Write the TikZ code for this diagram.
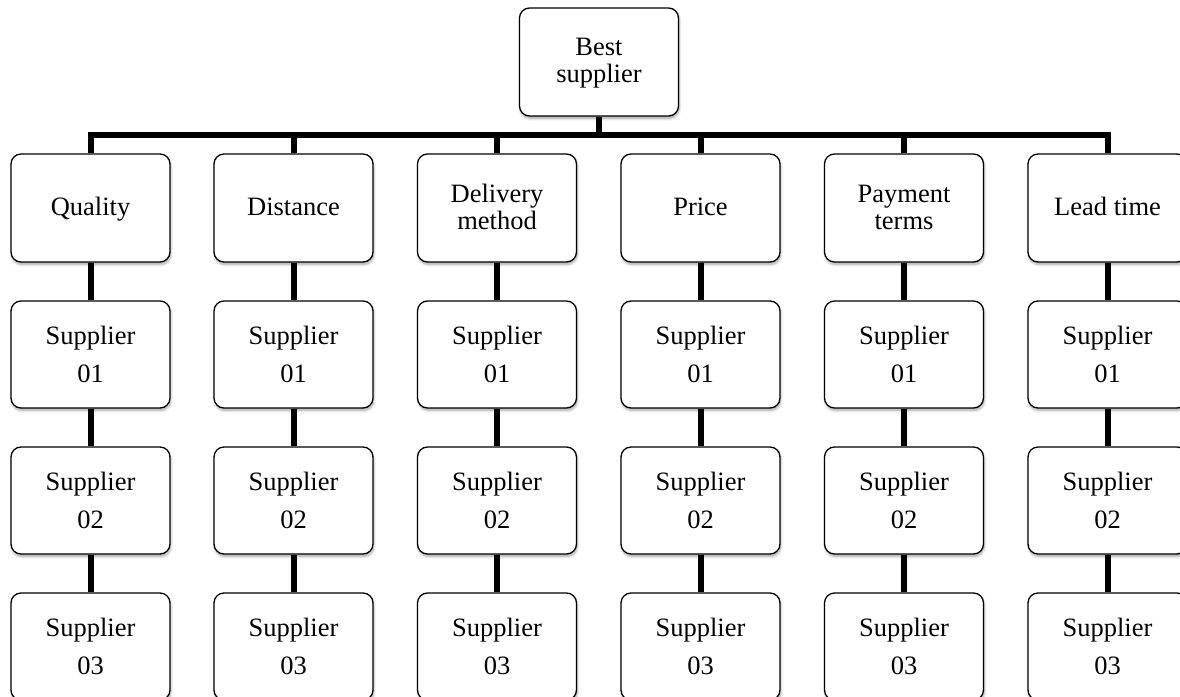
\documentclass[tikz,border=0pt]{standalone}
\usepackage{fontspec}
\setmainfont{Liberation Serif}
\usetikzlibrary{shadows.blur}
\newcommand\boxstrut{\rule[-4bp]{0pt}{24bp}}
\tikzset{
  box/.style={draw=black, line width=1.3bp, rounded corners=10bp, fill=white,
    minimum width=159bp, minimum height=107bp, inner sep=0pt, align=center,
    blur shadow={shadow blur steps=6, shadow xshift=0.8bp, shadow yshift=-2.5bp, shadow opacity=35, shadow blur radius=2.5bp}},
  catbox/.style={box, font=\fontsize{26.5bp}{27bp}\selectfont},
  supbox/.style={box, font=\fontsize{26.5bp}{37.5bp}\selectfont},
  conn/.style={line width=6bp, line join=miter, line cap=butt},
}
\begin{document}
\begin{tikzpicture}[x=1bp, y=-1bp]
\useasboundingbox (0,0) rectangle (1180,697);
\clip (0,0) rectangle (1180,697);
\node[catbox, minimum height=108bp] (top) at (599,62) {\boxstrut Best\\supplier\boxstrut};
\coordinate (bar) at (0,135);
\foreach \i/\x/\t in {1/90.5/Quality, 2/293.5/Distance, 3/497/{Delivery\\method}, 4/700.5/Price, 5/904/{Payment\\terms}, 6/1107.5/Lead time}{
  \node[catbox, minimum height=108bp] (c\i) at (\x,208) {\boxstrut\t\boxstrut};
  \node[supbox] (sa\i) at (\x,354.5) {Supplier\\01};
  \node[supbox] (sb\i) at (\x,500.5) {Supplier\\02};
  \node[supbox] (sc\i) at (\x,646.5) {Supplier\\03};
  \draw[conn] (c\i.south) -- (sa\i.north);
  \draw[conn] (sa\i.south) -- (sb\i.north);
  \draw[conn] (sb\i.south) -- (sc\i.north);
}
\draw[conn] (top.south) -- (top.south |- bar);
\draw[conn] (c1.north) -- (c1.north |- bar) -- (c6.north |- bar) -- (c6.north);
\foreach \i in {2,3,4,5}{
  \draw[conn] (c\i.north) -- (c\i.north |- bar);
}
\end{tikzpicture}
\end{document}
